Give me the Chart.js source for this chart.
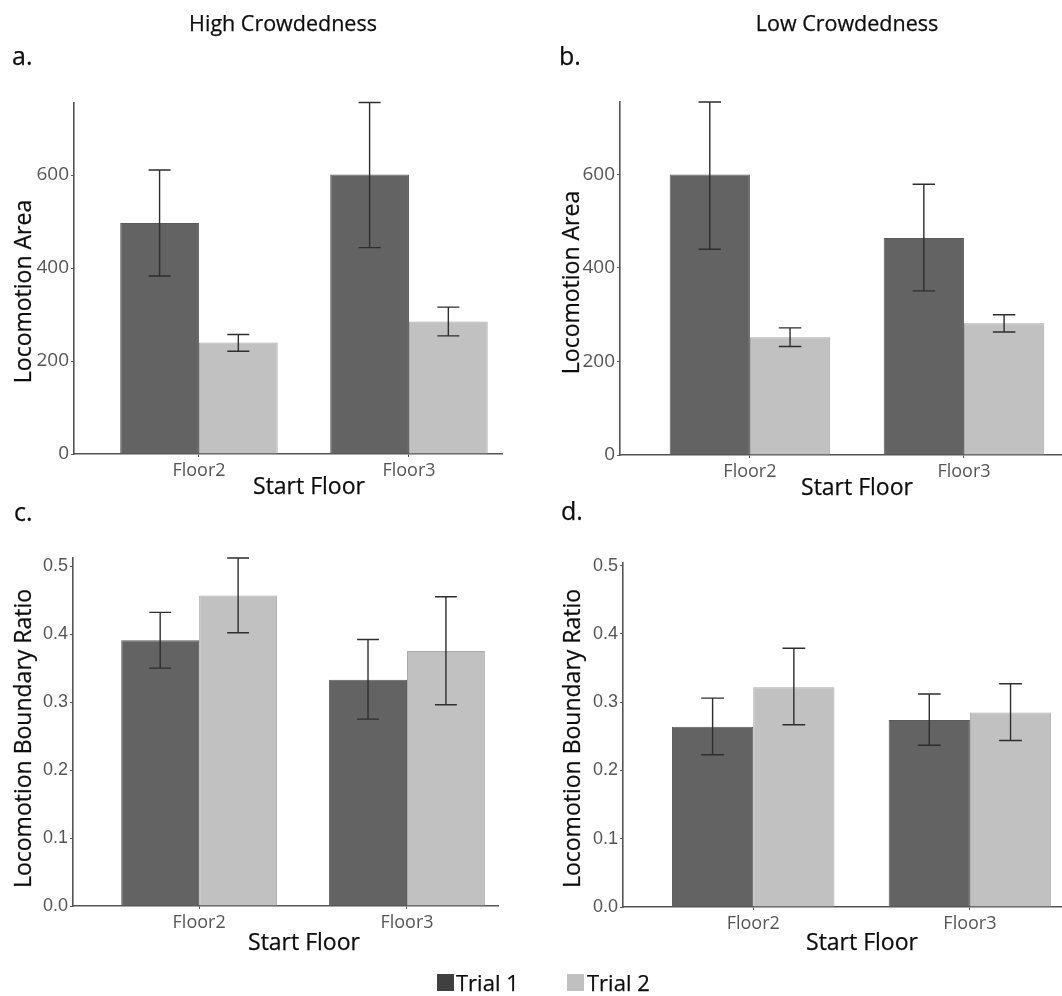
<!DOCTYPE html>
<html>
<head>
<meta charset="utf-8">
<script src="https://cdn.jsdelivr.net/npm/chart.js@4.4.1/dist/chart.umd.min.js"></script>
<style>
  html, body { margin: 0; padding: 0; background: #fff; }
  #page { position: relative; width: 1062px; height: 996px; overflow: hidden; font-family: 'Open Sans', sans-serif; color: #0d0d0d; }
  #page canvas { position: absolute; left: 0; top: 0; }
  .txt { position: absolute; line-height: 1; white-space: nowrap; -webkit-text-stroke: 0.25px #0d0d0d; }
  .center { text-align: center; }
  .ytitle { width: 340px; height: 23px; font-size: 23px; text-align: center; transform: rotate(-90deg); }
  .xtitle { width: 200px; font-size: 23px; text-align: center; }
  .panel { font-size: 25px; }
  .swatch { position: absolute; width: 17px; height: 17px; }
</style>
</head>
<body>
<div id="page">
  <canvas id="chartA" width="1062" height="996"></canvas>
  <canvas id="chartB" width="1062" height="996"></canvas>
  <canvas id="chartC" width="1062" height="996"></canvas>
  <canvas id="chartD" width="1062" height="996"></canvas>

  <div class="txt center" style="left:133px;top:12px;width:300px;font-size:21.5px">High Crowdedness</div>
  <div class="txt center" style="left:697px;top:12px;width:300px;font-size:21.5px">Low Crowdedness</div>

  <div class="txt panel" style="left:12px;top:43px">a.</div>
  <div class="txt panel" style="left:559px;top:43px">b.</div>
  <div class="txt panel" style="left:14px;top:499px">c.</div>
  <div class="txt panel" style="left:561px;top:498px">d.</div>

  <div class="txt ytitle" style="left:-148px;top:280px">Locomotion Area</div>
  <div class="txt ytitle" style="left:400px;top:271px">Locomotion Area</div>
  <div class="txt ytitle" style="left:-148px;top:727px">Locomotion Boundary Ratio</div>
  <div class="txt ytitle" style="left:401px;top:727px">Locomotion Boundary Ratio</div>

  <div class="txt xtitle" style="left:209px;top:474px">Start Floor</div>
  <div class="txt xtitle" style="left:757px;top:475px">Start Floor</div>
  <div class="txt xtitle" style="left:204px;top:930px">Start Floor</div>
  <div class="txt xtitle" style="left:762px;top:930px">Start Floor</div>

  <div class="swatch" style="left:437px;top:974px;background:#404040"></div>
  <div class="txt" style="left:456px;top:971px;font-size:22px">Trial 1</div>
  <div class="swatch" style="left:567px;top:974px;background:#c0c0c0"></div>
  <div class="txt" style="left:587px;top:971px;font-size:22px">Trial 2</div>
</div>
<script>
const floors = ['Floor2', 'Floor3'];
const trialNames = ['Trial 1', 'Trial 2'];
const areaTicks = [0, 200, 400, 600];
const ratioTicks = [0, 0.1, 0.2, 0.3, 0.4, 0.5];

// a. high crowdedness, locomotion area
const areaHighTrial1 = [497, 601];
const areaHighTrial1Low = [383, 444];
const areaHighTrial1High = [611, 756];
const areaHighTrial2 = [240, 285];
const areaHighTrial2Low = [221, 254];
const areaHighTrial2High = [257, 316];

// b. low crowdedness, locomotion area
const areaLowTrial1 = [600, 464];
const areaLowTrial1Low = [440, 351];
const areaLowTrial1High = [755, 579];
const areaLowTrial2 = [252, 282];
const areaLowTrial2Low = [232, 263];
const areaLowTrial2High = [272, 300];

// c. high crowdedness, boundary ratio
const ratioHighTrial1 = [0.391, 0.333];
const ratioHighTrial1Low = [0.350, 0.275];
const ratioHighTrial1High = [0.432, 0.392];
const ratioHighTrial2 = [0.457, 0.375];
const ratioHighTrial2Low = [0.402, 0.296];
const ratioHighTrial2High = [0.512, 0.455];

// d. low crowdedness, boundary ratio
const ratioLowTrial1 = [0.264, 0.274];
const ratioLowTrial1Low = [0.223, 0.237];
const ratioLowTrial1High = [0.306, 0.312];
const ratioLowTrial2 = [0.322, 0.285];
const ratioLowTrial2Low = [0.267, 0.244];
const ratioLowTrial2High = [0.379, 0.327];

const PAGE_W = 1062;
const PAGE_H = 996;
const Y_AXIS_W = 60;
const X_AXIS_H = 30;
const axisGrey = '#555';

const errorBars = {
  id: 'errorBars',
  afterDatasetsDraw(chart) {
    const { ctx } = chart;
    const y = chart.scales.y;
    ctx.save();
    ctx.strokeStyle = '#2e2e2e';
    ctx.lineWidth = 1.4;
    chart.data.datasets.forEach((ds, i) => {
      chart.getDatasetMeta(i).data.forEach((bar, j) => {
        const top = y.getPixelForValue(ds.errHigh[j]);
        const bottom = y.getPixelForValue(ds.errLow[j]);
        const half = bar.width * 0.14;
        ctx.beginPath();
        ctx.moveTo(bar.x, top);
        ctx.lineTo(bar.x, bottom);
        ctx.moveTo(bar.x - half, top);
        ctx.lineTo(bar.x + half, top);
        ctx.moveTo(bar.x - half, bottom);
        ctx.lineTo(bar.x + half, bottom);
        ctx.stroke();
      });
    });
    ctx.restore();
  },
};

function toPoints(values) {
  return values.map((v, i) => ({ x: i + 1, y: v }));
}

function renderPanel({ canvasId, box, xRange, yMax, yTicks, tickFamily, tickSize, trial1, trial2 }) {
  return new Chart(document.getElementById(canvasId), {
    type: 'bar',
    data: {
      datasets: [
        {
          label: trialNames[0],
          data: toPoints(trial1.mean),
          errLow: trial1.low,
          errHigh: trial1.high,
          backgroundColor: '#636363',
          borderColor: '#5b5b5b',
          borderWidth: 1,
        },
        {
          label: trialNames[1],
          data: toPoints(trial2.mean),
          errLow: trial2.low,
          errHigh: trial2.high,
          backgroundColor: '#c1c1c1',
          borderColor: '#a9a9a9',
          borderWidth: 1,
        },
      ],
    },
    options: {
      responsive: false,
      animation: false,
      events: [],
      layout: {
        padding: {
          left: box.left - Y_AXIS_W,
          top: box.top,
          right: PAGE_W - box.right,
          bottom: PAGE_H - box.bottom - X_AXIS_H,
        },
      },
      datasets: { bar: { categoryPercentage: 0.75, barPercentage: 1 } },
      plugins: { legend: { display: false }, tooltip: { enabled: false } },
      scales: {
        x: {
          type: 'linear',
          offset: false,
          min: xRange[0],
          max: xRange[1],
          afterBuildTicks: (scale) => { scale.ticks = floors.map((_, i) => ({ value: i + 1 })); },
          afterFit: (scale) => { scale.height = X_AXIS_H; },
          ticks: {
            callback: (v) => floors[v - 1] || '',
            font: { family: 'Open Sans', size: 18 },
            color: axisGrey,
            padding: 3,
            maxRotation: 0,
            autoSkip: false,
          },
          grid: { offset: false, drawOnChartArea: false, tickLength: 3, color: axisGrey },
          border: { color: axisGrey, width: 1.6 },
        },
        y: {
          min: 0,
          max: yMax,
          afterBuildTicks: (scale) => { scale.ticks = yTicks.map((v) => ({ value: v })); },
          afterFit: (scale) => { scale.width = Y_AXIS_W; },
          ticks: {
            callback: (v) => (yTicks[yTicks.length - 1] < 1 ? v.toFixed(1) : String(v)),
            font: { family: tickFamily, size: tickSize },
            color: axisGrey,
            padding: 2,
          },
          grid: { drawOnChartArea: false, tickLength: 3, color: axisGrey },
          border: { color: axisGrey, width: 1.6 },
        },
      },
    },
    plugins: [errorBars],
  });
}

renderPanel({
  canvasId: 'chartA',
  box: { left: 74, top: 103, right: 502, bottom: 454 },
  xRange: [0.405, 2.443],
  yMax: 755,
  yTicks: areaTicks,
  tickFamily: 'Open Sans',
  tickSize: 19,
  trial1: { mean: areaHighTrial1, low: areaHighTrial1Low, high: areaHighTrial1High },
  trial2: { mean: areaHighTrial2, low: areaHighTrial2Low, high: areaHighTrial2High },
});

renderPanel({
  canvasId: 'chartB',
  box: { left: 620, top: 102, right: 1062, bottom: 455 },
  xRange: [0.393, 2.458],
  yMax: 755,
  yTicks: areaTicks,
  tickFamily: 'Open Sans',
  tickSize: 19,
  trial1: { mean: areaLowTrial1, low: areaLowTrial1Low, high: areaLowTrial1High },
  trial2: { mean: areaLowTrial2, low: areaLowTrial2Low, high: areaLowTrial2High },
});

renderPanel({
  canvasId: 'chartC',
  box: { left: 73, top: 558, right: 498, bottom: 906 },
  xRange: [0.393, 2.438],
  yMax: 0.512,
  yTicks: ratioTicks,
  tickFamily: 'Liberation Sans',
  tickSize: 18,
  trial1: { mean: ratioHighTrial1, low: ratioHighTrial1Low, high: ratioHighTrial1High },
  trial2: { mean: ratioHighTrial2, low: ratioHighTrial2Low, high: ratioHighTrial2High },
});

renderPanel({
  canvasId: 'chartD',
  box: { left: 623, top: 563, right: 1062, bottom: 907 },
  xRange: [0.399, 2.425],
  yMax: 0.504,
  yTicks: ratioTicks,
  tickFamily: 'Liberation Sans',
  tickSize: 18,
  trial1: { mean: ratioLowTrial1, low: ratioLowTrial1Low, high: ratioLowTrial1High },
  trial2: { mean: ratioLowTrial2, low: ratioLowTrial2Low, high: ratioLowTrial2High },
});
</script>
</body>
</html>
